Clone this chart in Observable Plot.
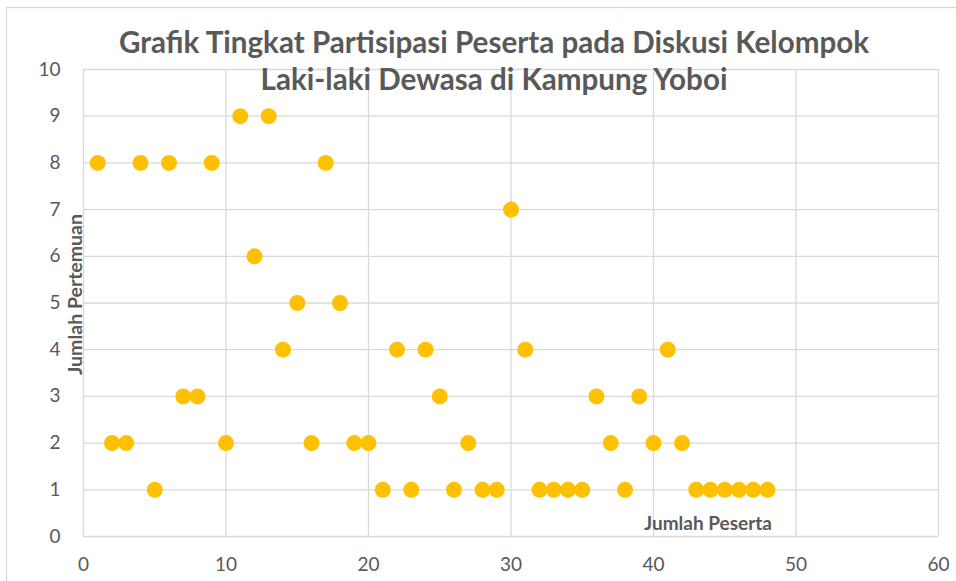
<!DOCTYPE html>
<html>
<head>
<meta charset="utf-8">
<script src="https://cdn.jsdelivr.net/npm/d3@7"></script>
<script src="https://cdn.jsdelivr.net/npm/@observablehq/plot@0.6"></script>
<style>
  html, body { margin: 0; padding: 0; background: #fff; }
  #chart { position: relative; width: 956px; height: 581px; }
</style>
</head>
<body>
<div id="chart"></div>
<script>
const title1 = "Grafik Tingkat Partisipasi Peserta pada Diskusi Kelompok";
const title2 = "Laki-laki Dewasa di Kampung Yoboi";
const xLabel = "Jumlah Peserta";
const yLabel = "Jumlah Pertemuan";
const xTicks = [0, 10, 20, 30, 40, 50, 60];
const yTicks = [0, 1, 2, 3, 4, 5, 6, 7, 8, 9, 10];
const peserta = [1,2,3,4,5,6,7,8,9,10,11,12,13,14,15,16,17,18,19,20,21,22,23,24,25,26,27,28,29,30,31,32,33,34,35,36,37,38,39,40,41,42,43,44,45,46,47,48];
const pertemuan = [8,2,2,8,1,8,3,3,8,2,9,6,9,4,5,2,8,5,2,2,1,4,1,4,3,1,2,1,1,7,4,1,1,1,1,3,2,1,3,2,4,2,1,1,1,1,1,1];

const data = peserta.map((x, i) => ({x, y: pertemuan[i]}));
const grey = "#595959";
const gridCol = "#d9d9d9";

const chart = Plot.plot({
  width: 956,
  height: 581,
  marginLeft: 83,
  marginRight: 18,
  marginTop: 69,
  marginBottom: 45,
  style: {fontFamily: "Lato, 'Open Sans', sans-serif", color: grey, background: "#fff"},
  x: {domain: [0, 60], ticks: xTicks, label: null},
  y: {domain: [0, 10], ticks: yTicks, label: null},
  marks: [
    Plot.gridX(xTicks, {stroke: gridCol, strokeOpacity: 1, strokeWidth: 1.3}),
    Plot.gridY(yTicks, {stroke: gridCol, strokeOpacity: 1, strokeWidth: 1.3}),
    Plot.axisX(xTicks, {tickSize: 0, tickPadding: 21, fontSize: 19, fill: grey}),
    Plot.axisY(yTicks, {tickSize: 0, tickPadding: 23, fontSize: 19, fill: grey}),
    Plot.dot(data, {x: "x", y: "y", r: 8, fill: "#FFC000", stroke: "none"}),
    Plot.text([title1], {frameAnchor: "top", dy: -26, dx: -17, fontSize: 29.6, fontWeight: "bold", fill: grey, lineAnchor: "middle"}),
    Plot.text([title2], {frameAnchor: "top", dy: 11, dx: -17, fontSize: 29.6, fontWeight: "bold", fill: grey, lineAnchor: "middle"}),
    Plot.text([xLabel], {frameAnchor: "bottom", dx: 197, dy: -13, fontSize: 19, fontWeight: "bold", fill: grey, lineAnchor: "middle"}),
    Plot.text([yLabel], {frameAnchor: "left", textAnchor: "middle", dx: -8, dy: -8.5, rotate: -90, fontSize: 19.5, fontWeight: "bold", fill: grey, lineAnchor: "middle"})
  ]
});

d3.select(chart).append("rect")
  .attr("x", 6.5).attr("y", 7.5)
  .attr("width", 960).attr("height", 600)
  .attr("fill", "none").attr("stroke", gridCol).attr("stroke-width", 1.3);

document.getElementById("chart").appendChild(chart);
</script>
</body>
</html>
